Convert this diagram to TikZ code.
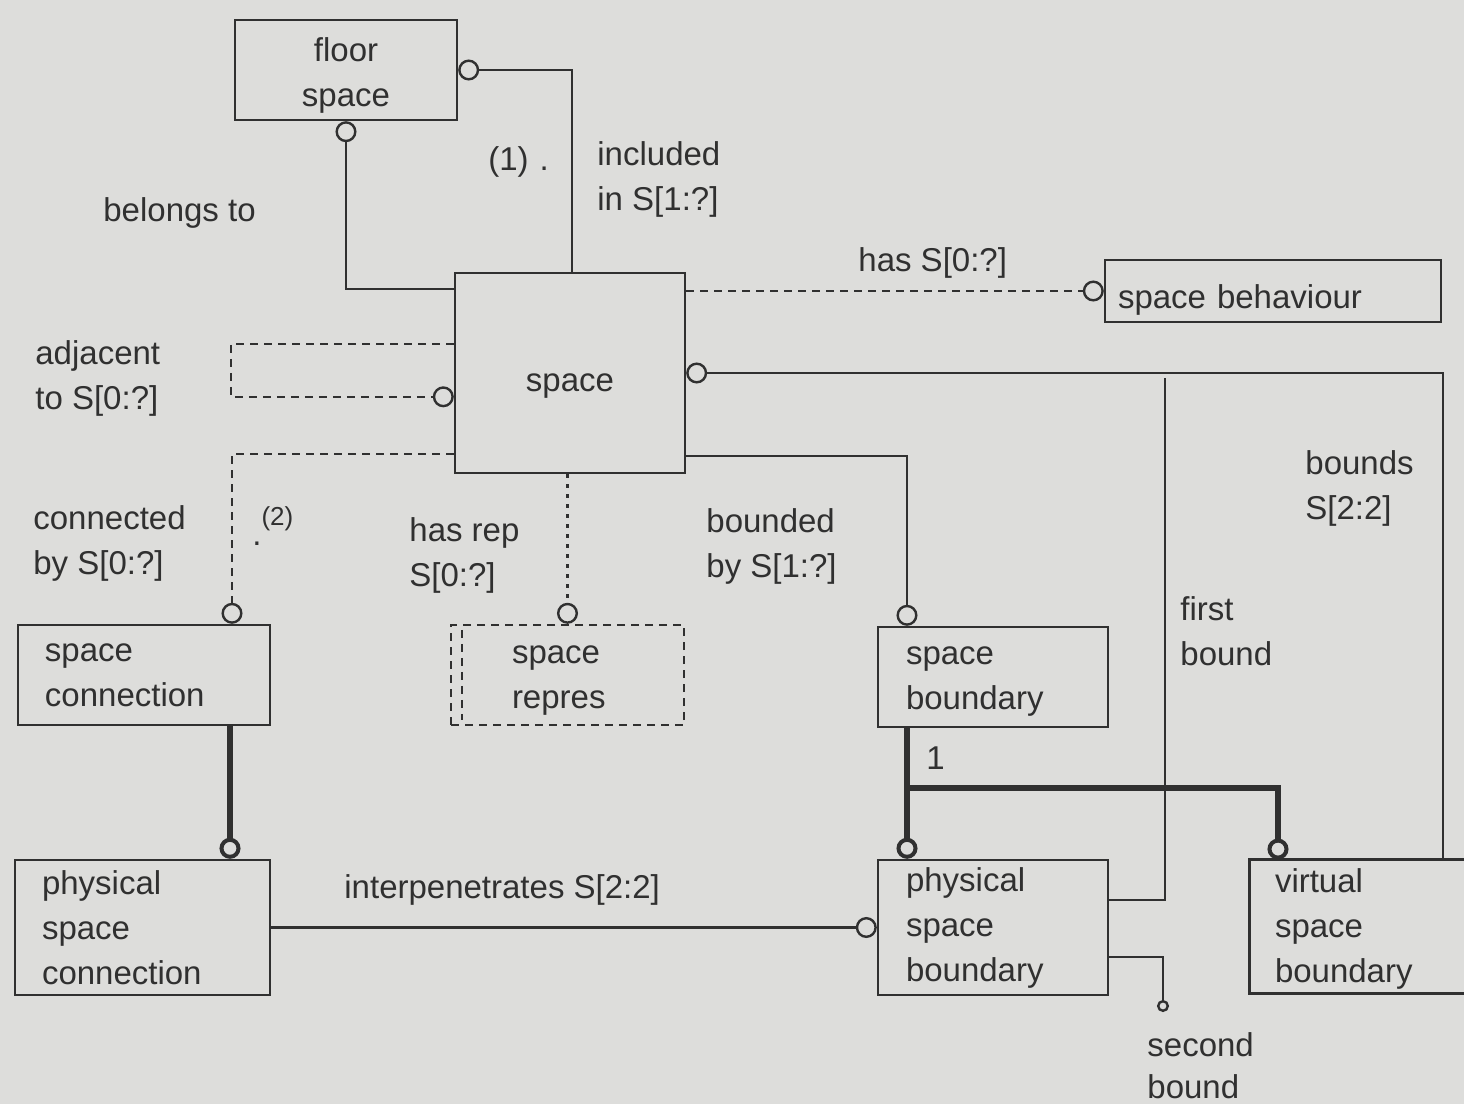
\documentclass[tikz,border=0pt]{standalone}
\usepackage{fontspec}
\setmainfont{Liberation Sans}
\usetikzlibrary{arrows.meta}
\definecolor{bg}{RGB}{221,221,219}
\definecolor{ink}{RGB}{48,48,48}
\begin{document}
\begin{tikzpicture}[x=0.5pt,y=-0.5pt,
  every node/.style={font=\fontsize{16.5}{22.5}\selectfont, text=ink},
  box/.style={draw=ink, line width=1.2pt, inner ysep=0pt},
  lbl/.style={anchor=west, align=left, inner sep=0pt},
  conn/.style={draw=ink, line width=1.2pt},
  thk/.style={draw=ink, line width=3pt},
  dsh/.style={conn, dash pattern=on 4pt off 3pt},
  dotl/.style={conn, dash pattern=on 2pt off 3pt},
  circ/.style={-{Circle[open,length=10.5pt,width=10.5pt]}},
  tcirc/.style={-{Circle[open,length=10.5pt,width=10.5pt,line width=2pt]}},
  scirc/.style={-{Circle[open,length=6pt,width=6pt]}}]
\useasboundingbox (0,0) rectangle (1464,1104);
\fill[bg] (0,0) rectangle (1464,1104);

% boxes
\node[box, minimum width=111pt, minimum height=50pt, align=center, inner xsep=0pt] (floor) at (346,70) {\rule{0pt}{17pt}floor\\space};
\node[box, minimum width=115pt, minimum height=100pt, inner xsep=0pt] (space) at (570,373) {\rule{0pt}{21.6pt}space};
\node[box, minimum height=31pt, text width=155pt, inner xsep=6.5pt, align=left] (beh) at (1273,291) {\rule{0pt}{21pt}space behaviour};
\node[box, minimum height=50pt, text width=99pt, inner xsep=13.5pt, align=left] (conn) at (144,675) {space\\connection};
\node[box, dash pattern=on 4pt off 3pt, minimum height=50pt, text width=55.5pt, inner xsep=30.5pt, align=left] (repres) at (567.5,675) {\rule{0pt}{14.6pt}space\\repres};
\node[box, minimum height=50pt, text width=87pt, inner xsep=14pt, align=left] (sb) at (993,677) {\rule{0pt}{13.6pt}space\\boundary};
\node[box, minimum height=67.5pt, text width=100.5pt, inner xsep=13.5pt, align=left] (psc) at (142.5,927.5) {physical\\space\\connection};
\node[box, minimum height=67.5pt, text width=87pt, inner xsep=14pt, align=left] (psb) at (993,927.5) {physical\\space\\boundary};
\node[inner ysep=0pt, minimum height=66.5pt, text width=82pt, inner xsep=12.5pt, align=left] (vsb) at (1357,926.5) {\rule{0pt}{14pt}virtual\\space\\boundary};
\draw[conn] (vsb.north east) -- (vsb.north west) -- (vsb.south west) -- (vsb.south east);
\draw[dsh] ([xshift=6pt,yshift=-3pt]repres.north west) -- ([xshift=6pt,yshift=3pt]repres.south west);

% connectors
\draw[conn,circ] ([xshift=1pt]space.north) |- (floor.east);
\draw[conn,circ] ([yshift=-8.5pt]space.north west) -| (floor.south);
\draw[dsh,circ] (space.east |- beh.west) -- (beh.west);
\draw[dsh,circ] ([yshift=-36pt]space.north west) -- ++(-223,0) -- ++(0,53) -- ([yshift=-62.5pt]space.north west);
\draw[dsh,circ] ([yshift=10pt]space.south west) -| ([xshift=44pt]conn.north);
\draw[dotl,circ] (repres.north |- space.south) -- (repres.north);
\draw[conn,circ] ([yshift=9pt]space.south east) -| ([xshift=-43pt]sb.north);
\draw[conn,circ] ([xshift=43pt]vsb.north) |- (space.east);
\coordinate (fbtop) at (1165,378);
\draw[conn] (fbtop) |- ([yshift=13.75pt]psb.east);
\coordinate (sbend) at (1163,1012);
\draw[conn,scirc] ([yshift=-14.75pt]psb.east) -| (sbend);
\draw[thk,tcirc] ([xshift=-43pt]sb.south) -- ([xshift=-43pt]sb.south |- psb.north);
\coordinate (jn) at (907,788);
\draw[thk,tcirc] (jn) -| ([xshift=-39.5pt]vsb.north);
\draw[thk,tcirc] ([xshift=43pt]conn.south) -- ([xshift=43pt]conn.south |- psc.north);
\draw[conn,circ] (psc.east) -- (psb.west);

% labels
\node[lbl] (l1) at (103,213) {belongs to};
\node[lbl] (l2) at (488,162) {(1)\,\,.};
\node[lbl] (l3) at (597,179) {included\\in S[1:?]};
\node[lbl] (l4) at (858,263) {has S[0:?]};
\node[lbl] (l5) at (35,378.5) {adjacent\\to S[0:?]};
\node[lbl] (l6) at (33,543) {connected\\by S[0:?]};
\node[lbl] (l7) at (252,526) {.\raisebox{1.1ex}{\fontsize{13}{13}\selectfont(2)}};
\node[lbl] (l8) at (409,555.5) {has rep\\S[0:?]};
\node[lbl] (l9) at (706,546) {bounded\\by S[1:?]};
\node[lbl] (l10) at (1305,488) {bounds\\S[2:2]};
\node[lbl] (l11) at (1180,631.5) {first\\bound};
\node[lbl, font=\fontsize{16.5}{21}\selectfont] (l12) at (1147,1066) {second\\bound};
\node[lbl] (l13) at (344,890) {interpenetrates S[2:2]};
\node[lbl] (l14) at (926,758) {1};
\end{tikzpicture}
\end{document}
